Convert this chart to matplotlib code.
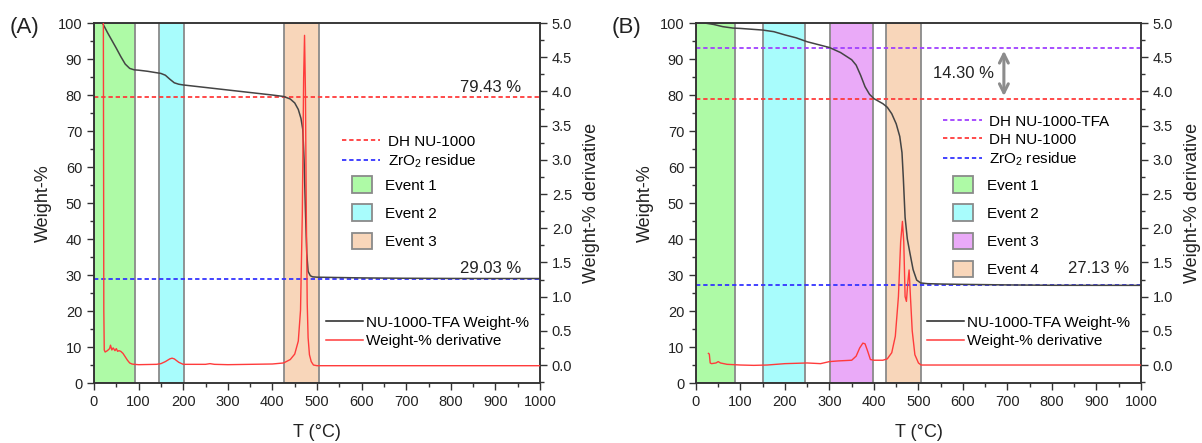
import matplotlib

matplotlib.use("Agg")
import matplotlib.pyplot as plt
from matplotlib.lines import Line2D
from matplotlib.patches import Patch
from matplotlib.ticker import MultipleLocator, FormatStrFormatter

plt.rcParams["font.family"] = ["Liberation Sans", "DejaVu Sans"]
plt.rcParams["mathtext.default"] = "regular"

# ---- (A) NU-1000-TFA, TGA ----
temp_a = [19, 25, 30, 40, 50, 60, 70, 80, 90, 100, 120, 140, 150, 160, 170, 180,
          190, 200, 250, 300, 350, 400, 425, 440, 450, 458, 464, 468, 471, 474,
          477, 480, 485, 490, 500, 550, 600, 700, 800, 900, 1000]
weight_a = [100, 98.6, 97.4, 95.2, 93.0, 90.7, 88.6, 87.4, 87.0, 86.9, 86.6, 86.2,
            86.0, 85.5, 84.4, 83.4, 83.0, 82.8, 82.1, 81.4, 80.7, 80.0, 79.6, 78.9,
            77.8, 76.0, 73.5, 70.5, 62.0, 48.0, 36.0, 31.0, 29.8, 29.5, 29.4, 29.3,
            29.2, 29.1, 29.05, 29.03, 29.03]
dtemp_a = [21, 21.5, 22, 23, 25, 30, 35, 37, 40, 43, 47, 50, 53, 56, 60, 65, 70,
           75, 80, 85, 90, 100, 140, 150, 160, 170, 175, 180, 190, 200, 250, 260,
           265, 270, 300, 400, 425, 440, 450, 458, 463, 467, 470, 472, 474, 476,
           478, 480, 483, 487, 492, 500, 600, 1000]
deriv_a = [5.0, 3.0, 0.8, 0.22, 0.19, 0.21, 0.24, 0.29, 0.22, 0.25, 0.21, 0.24,
           0.20, 0.21, 0.20, 0.17, 0.12, 0.07, 0.03, 0.015, 0.01, 0.005, 0.01, 0.02,
           0.05, 0.09, 0.10, 0.09, 0.04, 0.01, 0.01, 0.02, 0.015, 0.01, 0.005, 0.015,
           0.03, 0.08, 0.16, 0.35, 0.8, 2.2, 4.2, 4.82, 4.0, 2.2, 0.9, 0.4, 0.15,
           0.05, 0.0, -0.01, -0.01, -0.01]
events_a = [(0, 92), (145, 202), (427, 505)]
dh_nu1000_a = 79.43
zro2_a = 29.03

# ---- (B) ----
temp_b = [20, 40, 60, 83, 100, 150, 175, 200, 225, 250, 275, 300, 325, 350, 360,
          370, 380, 390, 400, 410, 420, 430, 440, 450, 458, 463, 466, 470, 475,
          481, 488, 496, 505, 520, 550, 600, 700, 800, 1000]
weight_b = [100, 99.6, 99.0, 98.6, 98.5, 98.05, 97.6, 96.7, 95.9, 94.8, 94.0, 93.2,
            91.8, 89.8, 88.3, 85.5, 82.3, 80.2, 79.0, 78.3, 77.6, 76.6, 74.8, 72.0,
            68.5, 64.0, 57.0, 46.0, 40.0, 36.0, 31.5, 28.6, 27.8, 27.6, 27.5, 27.4,
            27.25, 27.15, 27.13]
dtemp_b = [28, 30, 32, 35, 45, 50, 55, 70, 100, 130, 160, 200, 250, 280, 300, 320,
           350, 360, 368, 375, 380, 386, 392, 400, 420, 430, 440, 448, 455, 460,
           464, 467, 470, 473, 476, 479, 482, 486, 492, 500, 506, 520, 1000]
deriv_b = [0.17, 0.16, 0.03, 0.02, 0.03, 0.05, 0.03, 0.01, 0.0, -0.005, 0.0, 0.02,
           0.03, 0.02, 0.05, 0.06, 0.07, 0.13, 0.25, 0.32, 0.31, 0.2, 0.08, 0.07,
           0.07, 0.09, 0.18, 0.42, 1.0, 1.8, 2.1, 1.8, 1.0, 0.93, 1.2, 1.39, 1.0,
           0.5, 0.15, 0.03, 0.0, 0.0, 0.0]
events_b = [(0, 88), (151, 245), (301, 398), (428, 506)]
dh_tfa_b = 93.1
dh_nu1000_b = 78.8
zro2_b = 27.13
diff_b = 14.30

EVENT_COLORS = ["#aefaa6", "#a8fcfc", "#eaaaf8", "#f8d6ba"]
EDGE = "#8a8a8a"
RED = "#ff3b3b"
BLUE = "#3434ff"
PURPLE = "#a040ff"
BLACK = "#444444"
DASH = (0, (2.4, 1.6))

fig = plt.figure(figsize=(12.02, 4.43), dpi=100)


def setup_axes(ax, ax2):
    ax.set_xlim(0, 1000)
    ax.set_ylim(0, 100)
    # derivative axis: 0 sits at 5 weight-%, 5.0 at 100
    ax2.set_ylim(-5 / 19, 5.0)
    ax.xaxis.set_major_locator(MultipleLocator(100))
    ax.xaxis.set_minor_locator(MultipleLocator(50))
    ax.yaxis.set_major_locator(MultipleLocator(10))
    ax.yaxis.set_minor_locator(MultipleLocator(5))
    ax2.yaxis.set_major_locator(MultipleLocator(0.5))
    ax2.yaxis.set_minor_locator(MultipleLocator(0.25))
    ax2.yaxis.set_major_formatter(FormatStrFormatter("%.1f"))
    for a in (ax, ax2):
        a.tick_params(which="major", direction="out", length=5, width=1,
                      labelsize=10.5, colors="#333333", labelcolor="#222222")
        a.tick_params(which="minor", direction="out", length=3, width=1,
                      colors="#333333")
        for s in a.spines.values():
            s.set_color("#333333")
            s.set_linewidth(1.1)
    ax.tick_params(top=False, right=False)
    ax.set_xlabel("T (°C)", fontsize=13, labelpad=11, color="#222222")
    ax.set_ylabel("Weight-%", fontsize=13, labelpad=4, color="#222222")
    ax2.set_ylabel("Weight-% derivative", fontsize=13, labelpad=8, color="#222222")


def draw_panel(rect, temp, weight, dtemp, deriv, events, ev_colors, refs, tag):
    ax = fig.add_axes(rect)
    ax2 = ax.twinx()
    for (lo, hi), c in zip(events, ev_colors):
        ax.axvspan(lo, hi, facecolor=c, edgecolor=EDGE, linewidth=1.3, zorder=0)
    for val, col, _ in refs:
        ax.axhline(val, color=col, linestyle=DASH, linewidth=1.3, zorder=2)
    ax.plot(temp, weight, color=BLACK, linewidth=1.1, zorder=3)
    ax2.plot(dtemp, deriv, color=RED, linewidth=1.0, zorder=3)
    setup_axes(ax, ax2)
    fig.text(rect[0] - 0.07, 0.925, tag, fontsize=16, color="#222222")
    return ax, ax2


def add_legends(ax, refs, ref_y, ev_colors, ev_y):
    ref_handles = [Line2D([], [], color=c, linestyle=DASH, linewidth=1.3, label=l)
                   for _, c, l in refs]
    leg1 = ax.legend(handles=ref_handles, loc="upper left", bbox_to_anchor=(0.556, ref_y),
                     frameon=False, fontsize=11, handlelength=2.5, handletextpad=0.5,
                     labelspacing=0.25, borderpad=0, borderaxespad=0)
    ax.add_artist(leg1)
    ev_handles = [Patch(facecolor=c, edgecolor=EDGE, linewidth=1.3, label=f"Event {i + 1}")
                  for i, c in enumerate(ev_colors)]
    leg2 = ax.legend(handles=ev_handles, loc="upper left", bbox_to_anchor=(0.578, ev_y),
                     frameon=False, fontsize=11, handlelength=1.3, handleheight=1.3,
                     handletextpad=0.9, labelspacing=0.75, borderpad=0, borderaxespad=0)
    ax.add_artist(leg2)
    curve_handles = [Line2D([], [], color="#222222", linewidth=1.1, label="NU-1000-TFA Weight-%"),
                     Line2D([], [], color=RED, linewidth=1.1, label="Weight-% derivative")]
    ax.legend(handles=curve_handles, loc="upper left", bbox_to_anchor=(0.52, 0.187),
              frameon=False, fontsize=11, handlelength=2.4, handletextpad=0.2,
              labelspacing=0.3, borderpad=0, borderaxespad=0)


# panel A
colors_a = [EVENT_COLORS[0], EVENT_COLORS[1], EVENT_COLORS[3]]
refs_a = [(dh_nu1000_a, RED, "DH NU-1000"), (zro2_a, BLUE, "ZrO$_2$ residue")]
ax_a, ax2_a = draw_panel([0.0782, 0.1354, 0.3711, 0.8126], temp_a, weight_a,
                         dtemp_a, deriv_a, events_a, colors_a, refs_a, "(A)")
ax_a.text(957, dh_nu1000_a + 2.8, f"{dh_nu1000_a:.2f} %", ha="right", va="center",
          fontsize=12, color="#222222")
ax_a.text(957, zro2_a + 2.8, f"{zro2_a:.2f} %", ha="right", va="center",
          fontsize=12, color="#222222")
add_legends(ax_a, refs_a, 0.69, colors_a, 0.574)

# panel B
refs_b = [(dh_tfa_b, PURPLE, "DH NU-1000-TFA"), (dh_nu1000_b, RED, "DH NU-1000"),
          (zro2_b, BLUE, "ZrO$_2$ residue")]
ax_b, ax2_b = draw_panel([0.579, 0.1354, 0.3702, 0.8126], temp_b, weight_b,
                         dtemp_b, deriv_b, events_b, EVENT_COLORS, refs_b, "(B)")
ax_b.text(973, 31.7, f"{zro2_b:.2f} %", ha="right", va="center",
          fontsize=12, color="#222222")
ax_b.annotate("", xy=(692, dh_tfa_b - 0.8), xytext=(692, dh_nu1000_b + 0.9),
              arrowprops=dict(arrowstyle="<->", color="#8c8c8c", lw=2.2,
                              mutation_scale=16, shrinkA=0, shrinkB=0))
ax_b.text(602, (dh_tfa_b + dh_nu1000_b) / 2, f"{diff_b:.2f} %", ha="center",
          va="center", fontsize=12, color="#222222")
add_legends(ax_b, refs_b, 0.745, EVENT_COLORS, 0.574)

fig.savefig("out.png", dpi=100)
